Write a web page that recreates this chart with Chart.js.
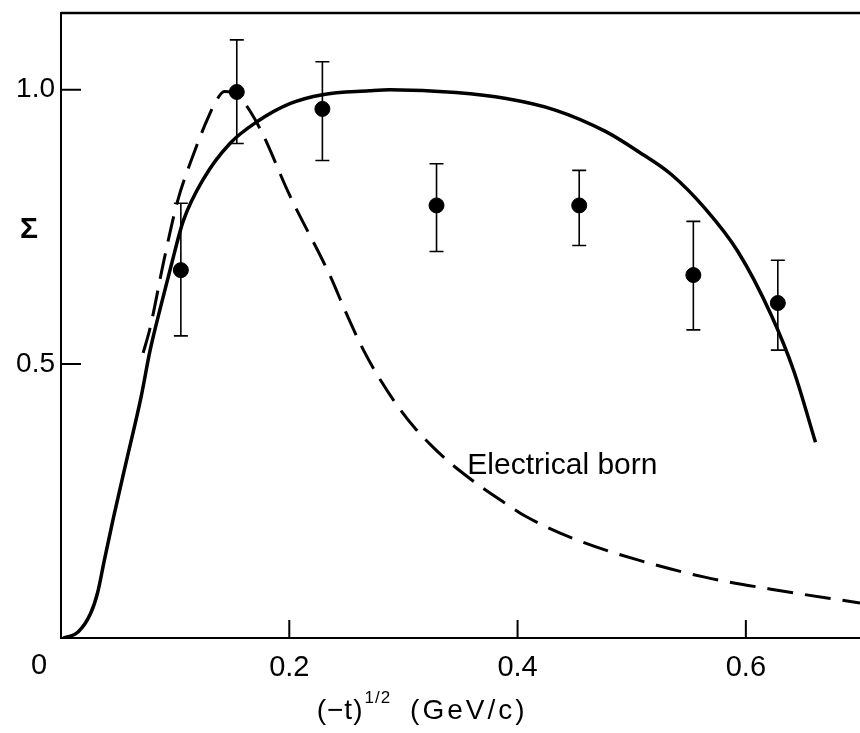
<!DOCTYPE html>
<html>
<head>
<meta charset="utf-8">
<script src="https://cdn.jsdelivr.net/npm/chart.js@4.4.1/dist/chart.umd.min.js"></script>
<style>
  html, body { margin: 0; padding: 0; background: #fff; }
  #wrap { width: 860px; height: 733px; position: relative; }
</style>
</head>
<body>
<div id="wrap"><canvas id="sigmaChart"></canvas></div>
<script>
// measured points with error bars
const pointX = [0.105, 0.154, 0.229, 0.329, 0.454, 0.554, 0.628];
const pointY = [0.671, 0.996, 0.965, 0.789, 0.789, 0.662, 0.611];
const errLow = [0.551, 0.902, 0.871, 0.705, 0.716, 0.562, 0.525];
const errHigh = [0.793, 1.091, 1.051, 0.865, 0.853, 0.760, 0.689];

// solid model curve
const solidX = [0.002, 0.015, 0.026, 0.032, 0.038, 0.046, 0.058, 0.070, 0.078, 0.088, 0.096, 0.107, 0.125, 0.148, 0.172, 0.201, 0.229, 0.270, 0.288, 0.346, 0.390, 0.433, 0.477, 0.506, 0.535, 0.564, 0.593, 0.622, 0.642, 0.661];
const solidY = [0.000, 0.011, 0.045, 0.082, 0.142, 0.220, 0.329, 0.438, 0.524, 0.610, 0.675, 0.760, 0.838, 0.902, 0.942, 0.975, 0.991, 0.998, 1.000, 0.995, 0.984, 0.963, 0.924, 0.887, 0.845, 0.784, 0.705, 0.590, 0.487, 0.357];

// dashed "Electrical born" curve
const bornX = [0.072, 0.078, 0.090, 0.102, 0.116, 0.128, 0.136, 0.143, 0.150, 0.158, 0.166, 0.177, 0.200, 0.235, 0.250, 0.265, 0.280, 0.295, 0.310, 0.325, 0.340, 0.355, 0.370, 0.390, 0.407, 0.453, 0.506, 0.564, 0.622, 0.700];
const bornY = [0.520, 0.565, 0.687, 0.796, 0.882, 0.945, 0.980, 0.997, 0.995, 0.982, 0.960, 0.918, 0.809, 0.664, 0.592, 0.525, 0.470, 0.423, 0.383, 0.350, 0.321, 0.296, 0.273, 0.245, 0.222, 0.178, 0.142, 0.111, 0.089, 0.064];

const xTicks = [0, 0.2, 0.4, 0.6];
const yTicks = [0.5, 1.0];
const curveLabel = 'Electrical born';

const toXY = (xs, ys) => xs.map((x, i) => ({ x: x, y: ys[i] }));

const FONT = '"Liberation Sans", Arial, sans-serif';

// frame, inward ticks, error bars and free texts
const decorPlugin = {
    id: 'decor',
    beforeDatasetsDraw(chart) {
        const ctx = chart.ctx;
        const xs = chart.scales.x, ys = chart.scales.y;
        ctx.save();
        ctx.strokeStyle = '#000';
        ctx.lineWidth = 1.6;
        pointX.forEach((x, i) => {
            const px = xs.getPixelForValue(x);
            const top = ys.getPixelForValue(errHigh[i]);
            const bot = ys.getPixelForValue(errLow[i]);
            ctx.beginPath();
            ctx.moveTo(px, top); ctx.lineTo(px, bot);
            ctx.moveTo(px - 7, top); ctx.lineTo(px + 7, top);
            ctx.moveTo(px - 7, bot); ctx.lineTo(px + 7, bot);
            ctx.stroke();
        });
        ctx.restore();
    },
    afterDraw(chart) {
        const ctx = chart.ctx;
        const area = chart.chartArea;
        const xs = chart.scales.x, ys = chart.scales.y;
        ctx.save();
        ctx.strokeStyle = '#000';
        ctx.fillStyle = '#000';

        // top frame line
        ctx.lineWidth = 2.5;
        ctx.beginPath();
        ctx.moveTo(area.left, area.top);
        ctx.lineTo(chart.width, area.top);
        ctx.stroke();

        // ticks pointing inside
        ctx.lineWidth = 2;
        ctx.beginPath();
        xTicks.filter(v => v > 0).forEach(v => {
            const px = xs.getPixelForValue(v);
            ctx.moveTo(px, area.bottom);
            ctx.lineTo(px, area.bottom - 18);
        });
        yTicks.forEach(v => {
            const py = ys.getPixelForValue(v);
            ctx.moveTo(area.left, py);
            ctx.lineTo(area.left + 20, py);
        });
        ctx.stroke();

        // origin label sits left of the corner
        ctx.font = '29px ' + FONT;
        ctx.textAlign = 'center';
        ctx.textBaseline = 'middle';
        ctx.fillText('0', xs.getPixelForValue(0) - 22, area.bottom + 28);

        // sigma
        ctx.font = 'bold 30px ' + FONT;
        ctx.fillText('Σ', area.left - 32, ys.getPixelForValue(0.745));

        // curve annotation
        ctx.font = '30px ' + FONT;
        ctx.textAlign = 'left';
        ctx.textBaseline = 'alphabetic';
        ctx.fillText(curveLabel, xs.getPixelForValue(0.356), ys.getPixelForValue(0.30));

        // x axis title with superscript
        let tx = xs.getPixelForValue(0.224);
        const base = area.bottom + 81;
        ctx.font = '28px ' + FONT;
        ctx.letterSpacing = '1px';
        ctx.fillText('(−t)', tx, base);
        tx += ctx.measureText('(−t)').width + 1;
        ctx.font = '17px ' + FONT;
        ctx.fillText('1/2', tx, base - 16);
        tx += ctx.measureText('1/2').width + 19;
        ctx.font = '28px ' + FONT;
        ctx.letterSpacing = '3px';
        ctx.fillText('(GeV/c)', tx, base);
        ctx.restore();
    }
};

const chartData = {
    datasets: [
        {
            label: 'model',
            data: toXY(solidX, solidY),
            showLine: true,
            borderColor: '#000',
            borderWidth: 3.5,
            pointRadius: 0,
            cubicInterpolationMode: 'monotone',
            order: 2
        },
        {
            label: curveLabel,
            data: toXY(bornX, bornY),
            showLine: true,
            borderColor: '#000',
            borderWidth: 3,
            borderDash: [26, 12],
            pointRadius: 0,
            cubicInterpolationMode: 'monotone',
            order: 3
        },
        {
            label: 'data',
            data: toXY(pointX, pointY),
            showLine: false,
            backgroundColor: '#000',
            borderColor: '#000',
            pointRadius: 7.5,
            pointStyle: 'circle',
            order: 1
        }
    ]
};

const chartConfig = {
    type: 'scatter',
    data: chartData,
    plugins: [decorPlugin],
    options: {
        responsive: true,
        maintainAspectRatio: false,
        animation: false,
        layout: { autoPadding: false, padding: { top: 13, right: 0, left: 0, bottom: 0 } },
        plugins: {
            legend: { display: false },
            tooltip: { enabled: false }
        },
        scales: {
            x: {
                type: 'linear',
                min: 0,
                max: 0.7,
                afterBuildTicks: (scale) => { scale.ticks = xTicks.map(v => ({ value: v })); },
                afterFit: (scale) => {
                    scale.height = 95;
                    scale.paddingLeft = 0;
                    scale.paddingRight = 0;
                },
                grid: { display: false, drawTicks: false },
                border: { display: true, color: '#000', width: 2 },
                ticks: {
                    color: '#000',
                    padding: 13,
                    maxRotation: 0,
                    font: { family: FONT, size: 29 },
                    callback: (v) => v === 0 ? '' : String(v)
                }
            },
            y: {
                type: 'linear',
                min: 0,
                max: 1.14,
                afterBuildTicks: (scale) => { scale.ticks = yTicks.map(v => ({ value: v })); },
                afterFit: (scale) => {
                    scale.width = 61;
                    scale.paddingTop = 0;
                    scale.paddingBottom = 0;
                },
                grid: { display: false, drawTicks: false },
                border: { display: true, color: '#000', width: 2 },
                ticks: {
                    color: '#000',
                    padding: 6,
                    font: { family: FONT, size: 28 },
                    callback: (v) => v.toFixed(1)
                }
            }
        }
    }
};

const sigmaChart = new Chart(
    document.getElementById('sigmaChart'),
    chartConfig
);
</script>
</body>
</html>
